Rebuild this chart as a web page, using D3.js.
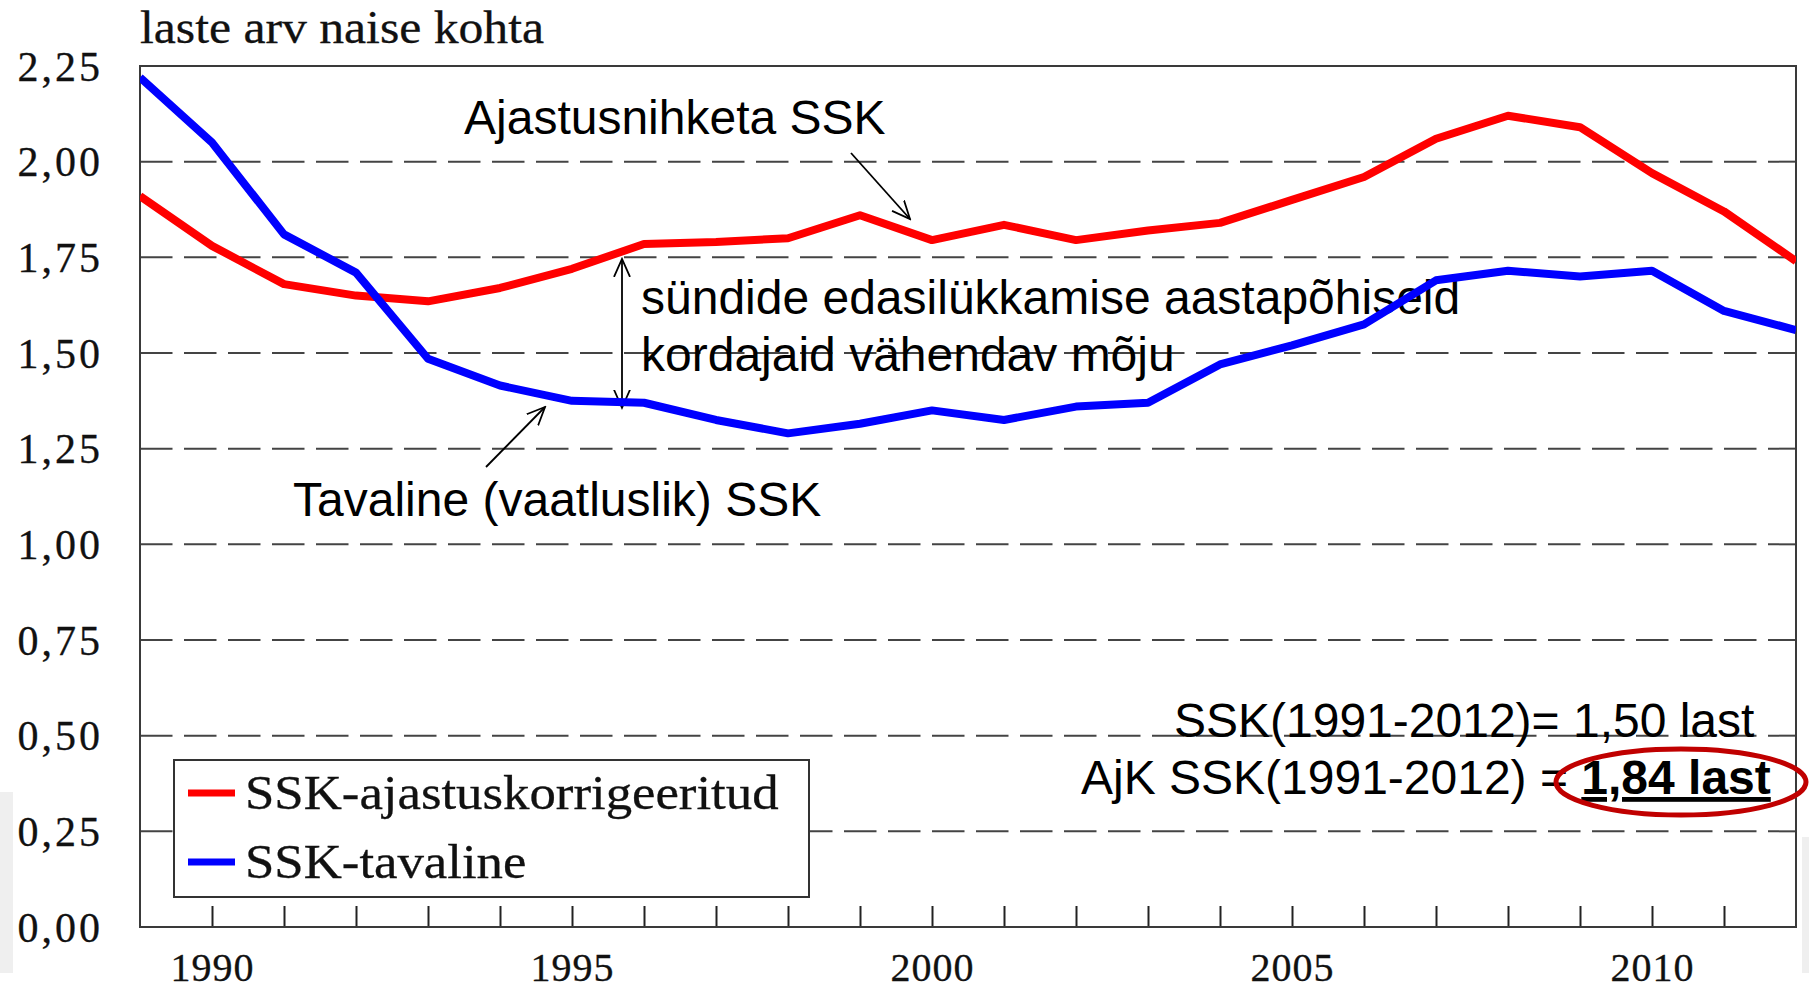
<!DOCTYPE html>
<html>
<head>
<meta charset="utf-8">
<script src="https://cdn.jsdelivr.net/npm/d3@7/dist/d3.min.js"></script>
<style>
    html, body { margin: 0; padding: 0; background: #fff; }
    svg { display: block; }
</style>
</head>
<body>
<div id="chart-container"></div>
<script>
// - - Data - -
const years = [1989, 1990, 1991, 1992, 1993, 1994, 1995, 1996, 1997, 1998, 1999, 2000,
               2001, 2002, 2003, 2004, 2005, 2006, 2007, 2008, 2009, 2010, 2011, 2012];

// SSK-ajastuskorrigeeritud (red)
const ajastusKorrigeeritud = [1.91, 1.78, 1.68, 1.65, 1.635, 1.67, 1.72, 1.785, 1.79, 1.80, 1.86, 1.795,
                              1.835, 1.795, 1.82, 1.84, 1.90, 1.96, 2.06, 2.12, 2.09, 1.97, 1.87, 1.74];

// SSK-tavaline (blue)
const tavaline = [2.22, 2.05, 1.81, 1.71, 1.485, 1.415, 1.375, 1.37, 1.325, 1.29, 1.315, 1.35,
                  1.325, 1.36, 1.37, 1.47, 1.52, 1.575, 1.69, 1.715, 1.70, 1.715, 1.61, 1.56];

const yTicks = [0, 0.25, 0.5, 0.75, 1.0, 1.25, 1.5, 1.75, 2.0, 2.25];
const xTicks = [1990, 1991, 1992, 1993, 1994, 1995, 1996, 1997, 1998, 1999, 2000,
                2001, 2002, 2003, 2004, 2005, 2006, 2007, 2008, 2009, 2010, 2011];
const xTickLabels = [1990, 1995, 2000, 2005, 2010];

const legendLabels = ["SSK-ajastuskorrigeeritud", "SSK-tavaline"];
const seriesColors = ["#ff0000", "#0000ff"];

const yAxisTitle = "laste arv naise kohta";
const noteAdjusted = "Ajastusnihketa SSK";
const noteObserved = "Tavaline (vaatluslik) SSK";
const noteGap = ["sündide edasilükkamise aastapõhiseid", "kordajaid vähendav mõju"];
const summaryPlain = "SSK(1991-2012)= 1,50 last";
const summaryAdjusted = ["AjK SSK(1991-2012) = ", "1,84 last"];

// - - Chart Sizing - -
const WIDTH = 1809;
const HEIGHT = 990;
const box = { left: 140, right: 1796, top: 66, bottom: 927 };

const SERIF = "'Liberation Serif', 'Times New Roman', serif";
const SANS = "'Liberation Sans', Arial, sans-serif";

const x = d3.scaleLinear().domain([1989, 2012]).range([box.left, box.right]);
const y = d3.scaleLinear().domain([0, 2.25]).range([box.bottom, box.top]);

const fmt = d => d3.format(".2f")(d).replace(".", ",");

// - - Main - -
function main() {
    const svg = d3.select("#chart-container")
        .append("svg")
            .attr("width", WIDTH)
            .attr("height", HEIGHT);

    svg.append("rect")
        .attr("width", WIDTH)
        .attr("height", HEIGHT)
        .attr("fill", "#fff");

    // slide edge strips
    svg.append("rect")
        .attr("x", 0).attr("y", 792).attr("width", 13).attr("height", 181)
        .attr("fill", "#efefef");
    svg.append("rect")
        .attr("x", 1802).attr("y", 837).attr("width", 7).attr("height", 136)
        .attr("fill", "#efefef");

    const defs = svg.append("defs");
    defs.append("clipPath")
        .attr("id", "plot-clip")
        .append("rect")
            .attr("x", box.left)
            .attr("y", box.top)
            .attr("width", box.right - box.left)
            .attr("height", box.bottom - box.top);

    defs.append("marker")
        .attr("id", "arrow")
        .attr("viewBox", "0 -10 20 20")
        .attr("refX", 18)
        .attr("refY", 0)
        .attr("markerWidth", 20)
        .attr("markerHeight", 20)
        .attr("markerUnits", "userSpaceOnUse")
        .attr("orient", "auto-start-reverse")
        .append("path")
            .attr("d", "M0,-8L18,0L0,8")
            .attr("fill", "none")
            .attr("stroke", "#000")
            .attr("stroke-width", 1.8);

    // Gridlines
    svg.append("g")
        .selectAll("line")
        .data(yTicks.filter(d => d > 0 && d < 2.25))
        .enter()
        .append("line")
            .attr("x1", box.left)
            .attr("x2", box.right)
            .attr("y1", d => y(d))
            .attr("y2", d => y(d))
            .attr("stroke", "#444")
            .attr("stroke-width", 2)
            .attr("stroke-dasharray", "32.5,11.5");

    // Y axis labels
    const yAxis = d3.axisLeft(y)
        .tickValues(yTicks)
        .tickSize(0)
        .tickPadding(37)
        .tickFormat(fmt);

    svg.append("g")
        .attr("transform", `translate(${box.left},0)`)
        .call(yAxis)
        .call(g => g.select(".domain").remove())
        .selectAll("text")
            .attr("font-family", SERIF)
            .attr("font-size", 42)
            .attr("letter-spacing", 3)
            .attr("fill", "#111")
            .attr("stroke", "#111")
            .attr("stroke-width", 0.3)
            .attr("dy", "0.34em");

    // X axis with inner ticks
    const xAxis = d3.axisBottom(x)
        .tickValues(xTicks)
        .tickSize(-21)
        .tickPadding(26)
        .tickFormat(d => xTickLabels.includes(d) ? d : "");

    svg.append("g")
        .attr("transform", `translate(0,${box.bottom})`)
        .call(xAxis)
        .call(g => g.select(".domain").remove())
        .call(g => g.selectAll(".tick line").attr("stroke", "#222").attr("stroke-width", 2))
        .selectAll("text")
            .attr("font-family", SERIF)
            .attr("font-size", 40)
            .attr("letter-spacing", 1)
            .attr("fill", "#111")
            .attr("stroke", "#111")
            .attr("stroke-width", 0.3);

    // Plot frame
    svg.append("rect")
        .attr("x", box.left)
        .attr("y", box.top)
        .attr("width", box.right - box.left)
        .attr("height", box.bottom - box.top)
        .attr("fill", "none")
        .attr("stroke", "#3a3a3a")
        .attr("stroke-width", 2);

    // Axis title
    svg.append("text")
        .attr("x", box.left)
        .attr("y", 43)
        .attr("font-family", SERIF)
        .attr("font-size", 46)
        .attr("fill", "#111")
        .attr("stroke", "#111")
        .attr("stroke-width", 0.3)
        .attr("transform", `translate(${box.left},0) scale(1.08,1) translate(${-box.left},0)`)
        .text(yAxisTitle);

    // Annotations (text)
    const notes = svg.append("g")
        .attr("font-family", SANS)
        .attr("font-size", 48)
        .attr("fill", "#000");

    notes.append("text").attr("x", 464).attr("y", 134).text(noteAdjusted);
    notes.append("text").attr("x", 293).attr("y", 516).text(noteObserved);
    noteGap.forEach((line, i) => {
        notes.append("text").attr("x", 641).attr("y", 314 + i * 57).text(line);
    });
    notes.append("text").attr("x", 1174).attr("y", 737).text(summaryPlain);

    const adj = notes.append("text").attr("x", 1081).attr("y", 794);
    adj.append("tspan").text(summaryAdjusted[0]);
    adj.append("tspan")
        .attr("font-weight", "bold")
        .attr("text-decoration", "underline")
        .text(summaryAdjusted[1]);

    // Arrows
    const arrows = svg.append("g")
        .attr("stroke", "#000")
        .attr("stroke-width", 1.8)
        .attr("fill", "none");

    arrows.append("line")
        .attr("x1", 851).attr("y1", 153)
        .attr("x2", 910).attr("y2", 219)
        .attr("marker-end", "url(#arrow)");

    arrows.append("line")
        .attr("x1", 486).attr("y1", 467)
        .attr("x2", 545).attr("y2", 407)
        .attr("marker-end", "url(#arrow)");

    arrows.append("line")
        .attr("x1", 622).attr("y1", y(ajastusKorrigeeritud[7]) + 15)
        .attr("x2", 622).attr("y2", y(tavaline[7]) + 5)
        .attr("marker-start", "url(#arrow)")
        .attr("marker-end", "url(#arrow)");

    // Series lines
    const line = d3.line()
        .x((d, i) => x(years[i]))
        .y(d => y(d));

    const plot = svg.append("g").attr("clip-path", "url(#plot-clip)");
    [ajastusKorrigeeritud, tavaline].forEach((series, i) => {
        plot.append("path")
            .datum(series)
            .attr("d", line)
            .attr("fill", "none")
            .attr("stroke", seriesColors[i])
            .attr("stroke-width", 8)
            .attr("stroke-linejoin", "round");
    });

    // Legend
    const legend = svg.append("g");
    legend.append("rect")
        .attr("x", 174)
        .attr("y", 760)
        .attr("width", 635)
        .attr("height", 137)
        .attr("fill", "#fff")
        .attr("stroke", "#333")
        .attr("stroke-width", 2);

    legendLabels.forEach((label, i) => {
        const ly = 793 + i * 69;
        legend.append("line")
            .attr("x1", 188).attr("x2", 235)
            .attr("y1", ly).attr("y2", ly)
            .attr("stroke", seriesColors[i])
            .attr("stroke-width", 7);
        legend.append("text")
            .attr("x", 245)
            .attr("y", ly + 16)
            .attr("font-family", SERIF)
            .attr("font-size", 48)
            .attr("fill", "#111")
            .attr("stroke", "#111")
            .attr("stroke-width", 0.3)
            .attr("transform", `translate(245,0) scale(1.1,1) translate(-245,0)`)
            .text(label);
    });

    // Highlight ellipse
    svg.append("ellipse")
        .attr("cx", 1681)
        .attr("cy", 782)
        .attr("rx", 125)
        .attr("ry", 33)
        .attr("fill", "none")
        .attr("stroke", "#c00000")
        .attr("stroke-width", 5);
}

main();
</script>
</body>
</html>
